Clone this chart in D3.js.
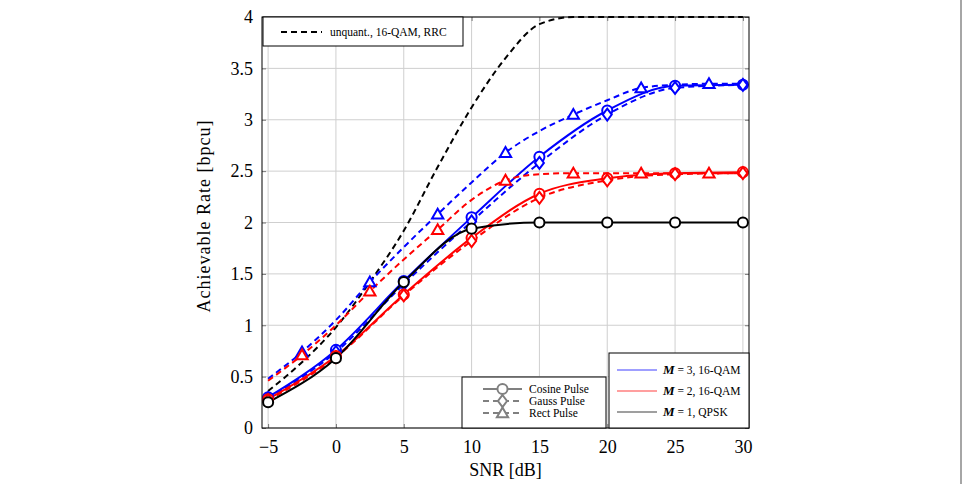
<!DOCTYPE html>
<html>
<head>
<meta charset="utf-8">
<script src="https://cdn.jsdelivr.net/npm/d3@7"></script>
<style>
  body { margin: 0; background: #fff; }
  svg { display: block; font-family: "Liberation Serif", "Times New Roman", serif; }
</style>
</head>
<body>
<div id="container"></div>
<script>
/* DATA */
const snr = [-5, 0, 5, 10, 15, 20, 25, 30];
const snrRect = [-5, -2.5, 0, 2.5, 5, 7.5, 10, 12.5, 15, 17.5, 20, 22.5, 25, 27.5, 30];
const snrUnq = [-5, -2.5, 0, 2.5, 5, 7.5, 10, 12.5, 15, 17.5, 20, 25, 30];

const m3Cosine = [0.30, 0.76, 1.43, 2.05, 2.64, 3.09, 3.33, 3.34];
const m3Gauss = [0.29, 0.74, 1.40, 2.01, 2.58, 3.05, 3.31, 3.34];
const m3Rect = [0.48, 0.74, 1.05, 1.42, 1.76, 2.08, 2.39, 2.68, 2.89, 3.05, 3.19, 3.31, 3.34, 3.35, 3.35];

const m2Cosine = [0.28, 0.70, 1.30, 1.85, 2.28, 2.43, 2.48, 2.49];
const m2Gauss = [0.27, 0.69, 1.29, 1.82, 2.24, 2.41, 2.47, 2.48];
const m2Rect = [0.46, 0.71, 1.00, 1.33, 1.64, 1.93, 2.22, 2.41, 2.47, 2.48, 2.48, 2.48, 2.48, 2.48, 2.48];

const m1Cosine = [0.25, 0.68, 1.42, 1.94, 2.00, 2.00, 2.00, 2.00];

const unquant = [0.36, 0.64, 0.98, 1.42, 1.92, 2.54, 3.12, 3.60, 3.93, 4.0, 4.0, 4.0, 4.0];

const xTicks = [-5, 0, 5, 10, 15, 20, 25, 30];
const yTicks = [0, 0.5, 1, 1.5, 2, 2.5, 3, 3.5, 4];

/* CONSTANTS */
const width = 964, height = 484;
const margin = { top: 17, bottom: 56, left: 262, right: 215 };

const svg = d3.select("#container")
  .append("svg")
  .attr("width", width)
  .attr("height", height);

const x = d3.scaleLinear()
  .domain([-5.45, 30.45])
  .range([margin.left, width - margin.right]);

const y = d3.scaleLinear()
  .domain([0, 4])
  .range([height - margin.bottom, margin.top]);

// right side page rule
svg.append("line")
  .attr("x1", 961).attr("x2", 961)
  .attr("y1", 0).attr("y2", height)
  .attr("stroke", "#888")
  .attr("stroke-width", 1.5);

// GRID
svg.append("g")
  .selectAll("line")
  .data(xTicks)
  .join("line")
  .attr("x1", d => x(d)).attr("x2", d => x(d))
  .attr("y1", y(0)).attr("y2", y(4))
  .attr("stroke", "#cfcfcf");

svg.append("g")
  .selectAll("line")
  .data(yTicks)
  .join("line")
  .attr("x1", x.range()[0]).attr("x2", x.range()[1])
  .attr("y1", d => y(d)).attr("y2", d => y(d))
  .attr("stroke", "#cfcfcf");

// AXES (ticks inside)
svg.append("g")
  .attr("transform", `translate(0,${y(0)})`)
  .call(d3.axisBottom(x).tickValues(xTicks).tickSizeInner(-4).tickSizeOuter(0)
    .tickPadding(12).tickFormat(d => d < 0 ? "\u2212" + Math.abs(d) : d));
svg.append("g")
  .attr("transform", `translate(${x.range()[0]},0)`)
  .call(d3.axisLeft(y).tickValues(yTicks).tickSizeInner(-4).tickSizeOuter(0)
    .tickPadding(9).tickFormat(d3.format("")));
svg.append("g")
  .attr("transform", `translate(0,${y(4)})`)
  .call(d3.axisTop(x).tickValues(xTicks).tickSizeInner(-4).tickSizeOuter(0).tickFormat(""));
svg.append("g")
  .attr("transform", `translate(${x.range()[1]},0)`)
  .call(d3.axisRight(y).tickValues(yTicks).tickSizeInner(-4).tickSizeOuter(0).tickFormat(""));

svg.selectAll(".domain").remove();
svg.selectAll(".tick line").attr("stroke", "#777");
svg.selectAll(".tick text")
  .attr("font-family", "Liberation Serif")
  .attr("font-size", 18)
  .attr("fill", "#000");

// LINES
const line = d3.line()
  .x(d => x(d[0]))
  .y(d => y(d[1]))
  .curve(d3.curveMonotoneX);

const plot = svg.append("g");

function drawSeries(xs, ys, color, dashed) {
  plot.append("path")
    .datum(xs.map((v, i) => [v, ys[i]]))
    .attr("fill", "none")
    .attr("stroke", color)
    .attr("stroke-width", 2)
    .attr("stroke-dasharray", dashed ? "6,4" : null)
    .attr("d", line);
}

const circleSym = d3.symbol().type(d3.symbolCircle).size(80);
const triSym = d3.symbol().type(d3.symbolTriangle).size(55);
const diamondPath = "M0,-6L4.5,0L0,6L-4.5,0Z";

function drawMarks(xs, ys, color, kind, filter) {
  const pts = xs.map((v, i) => [v, ys[i]]).filter(filter || (() => true));
  plot.append("g")
    .selectAll("path")
    .data(pts)
    .join("path")
    .attr("d", kind === "circle" ? circleSym() : kind === "tri" ? triSym() : diamondPath)
    .attr("transform", d => `translate(${x(d[0])},${y(d[1]) + (kind === "tri" ? 1 : 0)})`)
    .attr("fill", "#fff")
    .attr("stroke", color)
    .attr("stroke-width", 2);
}

const offGrid = d => d[0] % 5 !== 0;

// unquantized reference
drawSeries(snrUnq, unquant, "#000", true);

// M = 3
drawSeries(snrRect, m3Rect, "#0000ff", true);
drawSeries(snr, m3Gauss, "#0000ff", true);
drawSeries(snr, m3Cosine, "#0000ff", false);
// M = 2
drawSeries(snrRect, m2Rect, "#ff0000", true);
drawSeries(snr, m2Gauss, "#ff0000", true);
drawSeries(snr, m2Cosine, "#ff0000", false);
// M = 1
drawSeries(snr, m1Cosine, "#000", false);

drawMarks(snrRect, m3Rect, "#0000ff", "tri", offGrid);
drawMarks(snrRect, m2Rect, "#ff0000", "tri", offGrid);
drawMarks(snr, m3Cosine, "#0000ff", "circle");
drawMarks(snr, m3Gauss, "#0000ff", "diamond");
drawMarks(snr, m2Cosine, "#ff0000", "circle");
drawMarks(snr, m2Gauss, "#ff0000", "diamond");
drawMarks(snr, m1Cosine, "#000", "circle");

// FRAME
svg.append("rect")
  .attr("x", x.range()[0]).attr("y", y(4))
  .attr("width", x.range()[1] - x.range()[0])
  .attr("height", y(0) - y(4))
  .attr("fill", "none")
  .attr("stroke", "#000");

// AXIS TITLES
svg.append("text")
  .attr("x", (x.range()[0] + x.range()[1]) / 2)
  .attr("y", 476)
  .attr("text-anchor", "middle")
  .attr("font-size", 18)
  .text("SNR [dB]");

svg.append("text")
  .attr("transform", `translate(210,${(y(0) + y(4)) / 2 - 6}) rotate(-90)`)
  .attr("text-anchor", "middle")
  .attr("font-size", 18)
  .attr("textLength", 192)
  .text("Achievable Rate [bpcu]");

// LEGEND: unquantized
const lg1 = svg.append("g");
lg1.append("rect")
  .attr("x", 263).attr("y", 17).attr("width", 200).attr("height", 29)
  .attr("fill", "#fff").attr("stroke", "#000");
lg1.append("line")
  .attr("x1", 281).attr("x2", 322).attr("y1", 32).attr("y2", 32)
  .attr("stroke", "#000").attr("stroke-width", 2).attr("stroke-dasharray", "6,4");
lg1.append("text")
  .attr("x", 330).attr("y", 36)
  .attr("font-size", 11.5)
  .text("unquant., 16-QAM, RRC");

// LEGEND: pulse shapes
const pulseNames = ["Cosine Pulse", "Gauss Pulse", "Rect Pulse"];
const pulseKinds = ["circle", "diamond", "tri"];
const lg2 = svg.append("g");
lg2.append("rect")
  .attr("x", 462).attr("y", 377).attr("width", 144).attr("height", 51)
  .attr("fill", "#fff").attr("stroke", "#000");
pulseNames.forEach((name, i) => {
  const yy = 389 + i * 12;
  lg2.append("line")
    .attr("x1", 483).attr("x2", 522).attr("y1", yy).attr("y2", yy)
    .attr("stroke", "#808080").attr("stroke-width", 2)
    .attr("stroke-dasharray", i === 0 ? null : "6,4");
  lg2.append("path")
    .attr("d", pulseKinds[i] === "circle" ? circleSym() : pulseKinds[i] === "tri" ? triSym() : diamondPath)
    .attr("transform", `translate(502.5,${yy + (pulseKinds[i] === "tri" ? 1 : 0)})`)
    .attr("fill", "#fff").attr("stroke", "#808080").attr("stroke-width", 2);
  lg2.append("text")
    .attr("x", 529).attr("y", yy + 4)
    .attr("font-size", 11.5)
    .text(name);
});

// LEGEND: number of users
const mVals = ["3", "2", "1"];
const mMods = ["16-QAM", "16-QAM", "QPSK"];
const mColors = ["#0000ff", "#ff0000", "#000"];
const lg3 = svg.append("g");
lg3.append("rect")
  .attr("x", 609).attr("y", 353).attr("width", 140).attr("height", 75)
  .attr("fill", "#fff").attr("stroke", "#000");
mVals.forEach((m, i) => {
  const yy = 370 + i * 21;
  lg3.append("line")
    .attr("x1", 617).attr("x2", 657).attr("y1", yy).attr("y2", yy)
    .attr("stroke", mColors[i]).attr("stroke-width", 1).attr("opacity", 0.75);
  const t = lg3.append("text")
    .attr("x", 663).attr("y", yy + 4)
    .attr("font-size", 11.5);
  t.append("tspan")
    .attr("font-style", "italic").attr("font-weight", "bold").attr("font-size", 13)
    .text("M");
  t.append("tspan").text(` = ${m}, ${mMods[i]}`);
});
</script>
</body>
</html>
